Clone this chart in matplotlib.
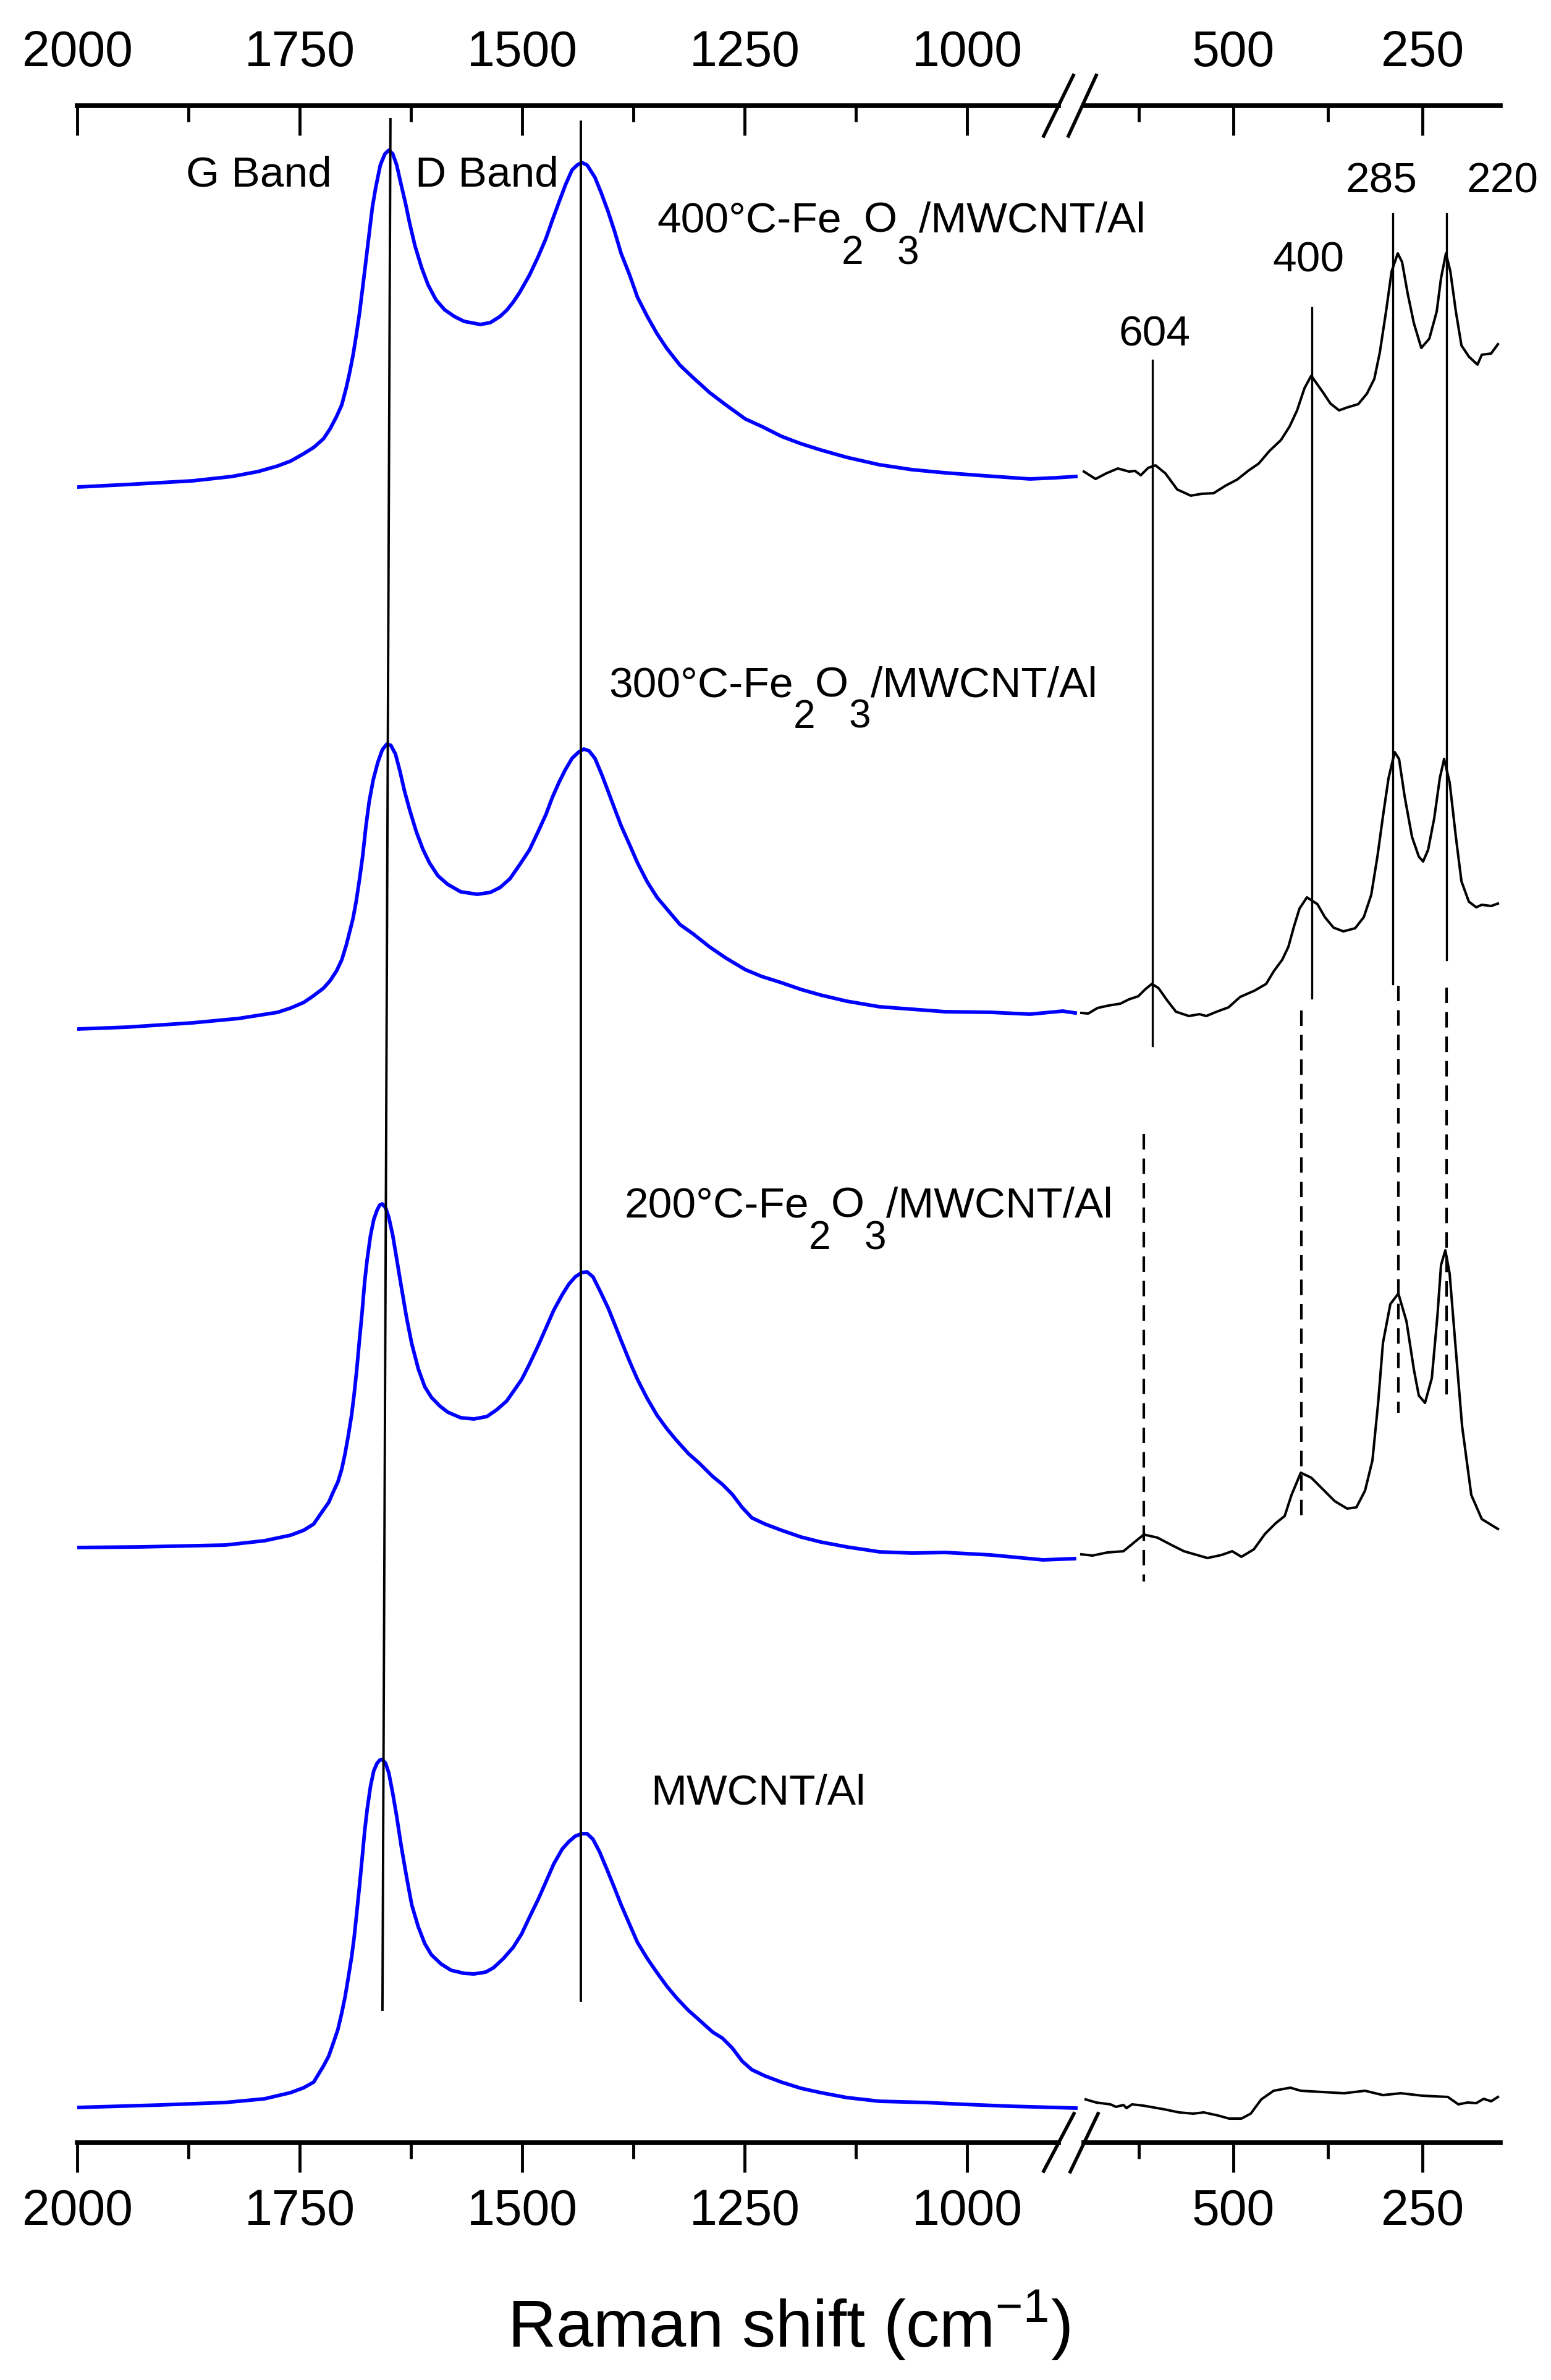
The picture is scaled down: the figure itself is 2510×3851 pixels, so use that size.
import matplotlib
matplotlib.use("Agg")
import matplotlib.pyplot as plt
from matplotlib.lines import Line2D

plt.rcParams['font.family'] = ['Liberation Sans', 'DejaVu Sans']
plt.rcParams['mathtext.fontset'] = 'custom'
plt.rcParams['mathtext.rm'] = 'Liberation Sans'
plt.rcParams['mathtext.it'] = 'Liberation Sans:italic'
plt.rcParams['mathtext.bf'] = 'Liberation Sans:bold'

# ---------------- data (Raman shift in cm-1, stacked intensity in a.u.) ----------------
# 400 C sample
s400_blue_x = [1999.0, 1943.9, 1870.3, 1826.2, 1796.8, 1774.8, 1760.1, 1745.4, 1734.3, 1723.3,
               1715.9, 1708.6, 1702.7, 1697.6, 1693.9, 1690.2, 1686.6, 1682.9, 1679.2, 1675.5,
               1671.9, 1668.2, 1664.5, 1659.4, 1654.2, 1649.8, 1645.4, 1641.0, 1636.6, 1631.4,
               1626.3, 1620.4, 1613.0, 1605.7, 1596.9, 1587.3, 1576.3, 1565.2, 1546.9, 1535.8,
               1524.8, 1517.4, 1510.1, 1502.7, 1491.7, 1482.2, 1473.3, 1466.0, 1458.6, 1451.3,
               1443.9, 1438.1, 1432.9, 1427.0, 1418.2, 1410.9, 1403.5, 1396.2, 1388.8, 1379.2,
               1370.4, 1359.4, 1348.4, 1337.3, 1322.6, 1307.9, 1289.5, 1271.2, 1249.1, 1230.7,
               1208.7, 1186.6, 1164.6, 1135.2, 1098.4, 1061.6, 1024.9, 988.1, 929.3, 899.8,
               877.8]
s400_blue_y = [267.9, 268.3, 268.9, 269.6, 270.4, 271.3, 272.1, 273.3, 274.3, 275.7,
               277.3, 279.3, 281.2, 284.0, 286.4, 289.1, 292.3, 295.9, 300.2, 304.6,
               308.9, 313.3, 316.4, 320.0, 321.8, 322.4, 321.8, 320.0, 317.2, 314.0,
               310.5, 306.9, 303.4, 300.6, 298.2, 296.6, 295.5, 294.7, 294.2, 294.5,
               295.5, 296.5, 297.8, 299.4, 302.2, 305.1, 308.1, 311.1, 314.0, 316.8,
               319.2, 320.0, 320.4, 320.0, 318.0, 315.4, 312.5, 309.3, 305.7, 302.2,
               298.6, 295.5, 292.7, 290.3, 287.6, 285.6, 283.2, 281.2, 278.9, 277.7,
               276.1, 274.9, 273.9, 272.7, 271.5, 270.7, 270.2, 269.8, 269.2, 269.4,
               269.6]
s400_black_x = [697.7, 682.2, 668.3, 652.8, 638.1, 629.9, 622.5, 612.7, 602.9, 589.9,
                574.3, 556.4, 541.7, 526.1, 510.6, 495.1, 479.6, 466.5, 452.6, 437.1,
                425.7, 415.8, 406.0, 397.1, 381.5, 371.7, 360.3, 348.9, 335.0, 323.5,
                313.7, 306.4, 298.2, 290.8, 282.7, 277.0, 269.6, 261.4, 251.6, 241.0,
                231.2, 225.5, 219.0, 213.2, 205.9, 198.5, 188.7, 177.3, 171.6, 159.3, 150.3]
s400_black_y = [270.4, 269.2, 270.1, 270.9, 270.4, 270.5, 269.8, 271.0, 271.4, 270.1,
                267.5, 266.5, 266.8, 266.9, 268.1, 269.1, 270.6, 271.7, 273.7, 275.5,
                277.7, 280.3, 283.9, 285.9, 283.2, 281.4, 280.3, 280.8, 281.3, 283.0,
                285.4, 289.7, 296.3, 302.8, 305.7, 304.3, 299.2, 294.4, 290.4, 291.9,
                296.3, 301.7, 305.7, 302.8, 296.3, 290.8, 289.0, 287.7, 289.3, 289.5, 291.0]

# 300 C sample
s300_blue_x = [1999.0, 1943.9, 1870.4, 1818.9, 1774.8, 1760.1, 1745.4, 1734.3, 1723.3, 1715.9,
               1708.6, 1702.7, 1697.6, 1693.9, 1690.2, 1686.6, 1682.9, 1679.2, 1675.5, 1671.9,
               1667.4, 1662.3, 1657.1, 1652.0, 1647.6, 1642.4, 1637.3, 1632.2, 1626.3, 1618.9,
               1611.6, 1604.2, 1594.7, 1583.6, 1569.0, 1550.5, 1535.8, 1524.8, 1513.8, 1502.7,
               1491.7, 1482.2, 1473.3, 1466.0, 1458.6, 1451.3, 1443.9, 1436.6, 1430.7, 1424.8,
               1418.2, 1410.9, 1403.5, 1396.2, 1388.8, 1379.2, 1370.4, 1359.4, 1348.4, 1337.3,
               1322.6, 1307.9, 1289.5, 1271.2, 1249.1, 1230.7, 1208.7, 1186.6, 1164.6, 1135.2,
               1098.4, 1061.6, 1024.9, 973.4, 929.3, 892.5, 878.5]
s300_blue_y = [180.2, 180.5, 181.2, 181.9, 182.9, 183.6, 184.5, 185.6, 186.8, 188.0,
               189.6, 191.4, 193.8, 195.9, 198.0, 200.8, 204.3, 208.2, 213.1, 217.0,
               220.5, 223.3, 225.4, 226.3, 226.1, 224.7, 221.9, 218.7, 215.6, 212.1,
               209.3, 207.1, 205.0, 203.6, 202.4, 202.0, 202.3, 203.1, 204.5, 206.8,
               209.2, 212.1, 214.9, 217.7, 220.1, 222.2, 224.0, 225.0, 225.5, 225.2,
               224.0, 221.5, 218.7, 215.9, 213.1, 210.0, 207.1, 204.0, 201.5, 199.6,
               197.1, 195.6, 193.5, 191.7, 189.8, 188.7, 187.7, 186.6, 185.7, 184.7,
               183.8, 183.4, 183.0, 182.9, 182.6, 183.1, 182.8]
s300_black_x = [701.0, 692.0, 679.7, 665.0, 649.5, 638.1, 625.8, 616.8, 607.8, 598.9,
                587.4, 576.0, 558.8, 544.9, 535.9, 522.1, 506.5, 491.0, 472.2, 456.7,
                446.9, 435.5, 427.3, 419.9, 412.6, 402.8, 388.9, 379.1, 367.6, 354.6,
                339.1, 327.6, 317.8, 309.6, 302.3, 294.9, 286.8, 281.0, 273.7, 263.9,
                254.9, 249.2, 242.6, 234.5, 227.1, 221.4, 214.1, 205.9, 198.5, 188.7,
                178.9, 171.6, 159.3, 150.3]
s300_black_y = [182.8, 182.7, 183.6, 184.0, 184.3, 185.0, 185.5, 186.6, 187.5, 186.8,
                184.8, 183.0, 182.3, 182.6, 182.3, 183.0, 183.7, 185.4, 186.4, 187.5,
                189.5, 191.4, 193.5, 196.8, 199.7, 201.5, 200.4, 198.3, 196.6, 196.0,
                196.5, 198.3, 201.9, 208.1, 214.6, 220.8, 225.0, 223.9, 217.9, 211.3,
                208.1, 207.3, 209.2, 214.3, 220.8, 223.9, 220.1, 211.3, 204.1, 200.8,
                199.9, 200.3, 200.1, 200.5]

# 200 C sample
s200_blue_x = [1999.0, 1929.2, 1833.6, 1789.5, 1760.1, 1745.4, 1734.3, 1723.3, 1717.4, 1712.3,
               1707.1, 1702.7, 1699.0, 1695.4, 1691.7, 1688.8, 1685.8, 1682.9, 1679.9, 1677.0,
               1674.1, 1670.4, 1666.7, 1663.0, 1660.1, 1657.2, 1653.5, 1649.8, 1645.4, 1641.0,
               1635.8, 1629.9, 1624.1, 1616.7, 1609.4, 1602.0, 1592.5, 1583.6, 1569.0, 1554.2,
               1539.5, 1528.5, 1517.4, 1510.1, 1500.5, 1491.7, 1482.2, 1473.3, 1464.5, 1455.0,
               1447.6, 1440.3, 1432.9, 1427.0, 1420.4, 1413.1, 1403.5, 1396.2, 1388.8, 1379.2,
               1370.4, 1359.4, 1348.4, 1337.3, 1326.3, 1313.1, 1300.6, 1285.9, 1274.8, 1263.8,
               1252.8, 1241.8, 1227.1, 1208.7, 1186.6, 1164.6, 1135.2, 1098.4, 1061.6, 1024.9,
               973.4, 944.0, 914.6, 879.3]
s200_blue_y = [96.3, 96.4, 96.7, 97.4, 98.3, 99.1, 100.1, 102.4, 103.6, 105.3,
               106.9, 109.0, 111.5, 114.4, 117.7, 121.1, 125.2, 129.8, 134.3, 139.3,
               143.0, 146.8, 149.4, 150.9, 151.7, 151.9, 151.3, 149.7, 146.8, 143.0,
               138.5, 133.5, 129.3, 125.2, 122.3, 120.6, 119.2, 118.2, 117.3, 117.1,
               117.5, 118.6, 120.0, 121.5, 123.5, 126.0, 128.9, 131.8, 134.7, 137.2,
               138.9, 140.1, 140.8, 140.9, 140.1, 138.0, 135.1, 132.5, 129.8, 126.4,
               123.5, 120.4, 117.7, 115.5, 113.6, 111.5, 109.9, 107.8, 106.5, 104.9,
               102.8, 101.1, 100.1, 99.1, 98.0, 97.2, 96.4, 95.6, 95.4, 95.5,
               95.1, 94.7, 94.3, 94.5]
s200_black_x = [701.0, 686.3, 666.7, 645.4, 631.5, 618.5, 600.5, 581.7, 565.4, 534.3,
                515.5, 501.6, 489.4, 473.0, 458.3, 444.4, 432.2, 423.2, 410.9, 397.1,
                379.9, 366.0, 349.7, 337.4, 326.0, 316.2, 308.8, 302.3, 292.5, 281.9,
                271.2, 261.4, 254.9, 246.7, 237.7, 230.4, 225.5, 219.8, 214.1, 206.7,
                197.7, 185.5, 171.6, 150.3]
s200_black_y = [95.2, 95.0, 95.5, 95.7, 97.1, 98.4, 97.9, 96.7, 95.7, 94.6,
                95.1, 95.7, 94.8, 96.0, 98.5, 100.2, 101.4, 104.8, 108.4, 107.6,
                105.5, 103.8, 102.6, 102.8, 105.5, 110.4, 119.5, 129.4, 135.7, 137.4,
                132.9, 125.1, 120.9, 119.7, 123.7, 133.6, 142.0, 144.4, 140.6, 129.4,
                116.0, 104.8, 100.9, 99.3]

# MWCNT/Al reference
cnt_blue_x = [1999.0, 1907.1, 1833.6, 1789.5, 1760.1, 1745.4, 1734.3, 1723.3, 1717.4, 1712.3,
              1707.1, 1702.7, 1699.0, 1695.4, 1691.7, 1688.8, 1685.8, 1682.9, 1679.9, 1677.0,
              1674.1, 1670.4, 1666.7, 1663.0, 1660.1, 1657.2, 1653.5, 1649.8, 1645.4, 1641.0,
              1635.8, 1629.9, 1624.1, 1616.7, 1609.4, 1602.0, 1591.0, 1579.9, 1565.2, 1554.2,
              1541.0, 1532.2, 1521.1, 1510.1, 1500.5, 1491.7, 1482.2, 1473.3, 1464.5, 1455.0,
              1447.6, 1440.3, 1432.9, 1427.0, 1420.4, 1413.1, 1403.5, 1396.2, 1388.8, 1379.2,
              1370.4, 1359.4, 1348.4, 1337.3, 1326.3, 1313.1, 1300.6, 1285.9, 1274.8, 1263.8,
              1252.8, 1241.8, 1227.1, 1208.7, 1186.6, 1164.6, 1135.2, 1098.4, 1046.9, 1002.8,
              951.4, 877.8]
cnt_blue_y = [5.7, 6.1, 6.5, 7.1, 8.1, 8.9, 9.8, 12.4, 14.0, 16.1,
              18.3, 21.0, 23.6, 26.7, 30.0, 33.2, 37.3, 41.4, 45.9, 50.4,
              54.0, 57.7, 60.2, 61.4, 61.9, 62.0, 61.4, 59.8, 56.5, 52.8,
              47.9, 43.0, 38.5, 34.9, 32.2, 30.4, 28.9, 27.9, 27.4, 27.3,
              27.6, 28.3, 29.8, 31.6, 33.8, 36.5, 39.3, 42.2, 45.1, 47.5,
              48.7, 49.6, 50.0, 50.0, 49.1, 47.1, 43.8, 41.2, 38.5, 35.3,
              32.4, 29.8, 27.5, 25.3, 23.4, 21.4, 19.8, 17.9, 16.9, 15.3,
              13.2, 11.8, 10.8, 9.8, 8.8, 8.1, 7.3, 6.7, 6.5, 6.2,
              5.9, 5.6]
cnt_black_x = [695.3, 681.4, 662.6, 655.2, 645.4, 641.3, 634.0, 619.3, 591.5, 571.9,
               553.1, 539.2, 520.4, 505.7, 489.4, 477.1, 463.2, 446.9, 424.8, 410.9,
               382.4, 353.8, 326.0, 302.3, 278.6, 250.0, 216.5, 202.6, 190.4, 178.9,
               169.1, 159.3, 150.3]
cnt_black_y = [7.0, 6.5, 6.2, 5.8, 6.1, 5.6, 6.2, 6.0, 5.4, 4.9,
               4.7, 4.9, 4.4, 3.9, 3.9, 4.7, 7.0, 8.4, 8.9, 8.4,
               8.2, 8.0, 8.4, 7.7, 8.0, 7.6, 7.4, 6.2, 6.5, 6.4,
               7.1, 6.7, 7.4]

# band guide lines (x at top, x at bottom, y top, y bottom)
g_line_x = [1648.0, 1657.0]
g_line_y = [327.4, 21.5]
d_line_x = [1434.0, 1434.0]
d_line_y = [327.0, 23.0]

# Fe2O3 peak markers
peak_labels = ["604", "400", "285", "220"]
peak_label_x = [604.6, 401.1, 304.7, 144.6]
peak_label_y = [290.8, 302.7, 315.6, 315.5]
solid_x = [607.0, 396.2, 289.2, 218.1]
solid_top = [288.4, 296.9, 312.1, 312.1]
solid_bot = [177.5, 185.2, 187.5, 191.4]
dash_x = [618.5, 410.1, 281.9, 218.1]
dash_top = [163.2, 183.2, 187.2, 186.9]
dash_bot = [90.8, 100.9, 118.1, 120.2]

# sample labels
sample_prefix = ["400°C", "300°C", "200°C"]
sample_label_x = [1348.6, 1402.8, 1385.4]
sample_label_y = [309.1, 234.0, 149.7]
cnt_label = ("MWCNT/Al", 1355.6, 54.8)
band_labels = [("G Band", 1877.8, 316.6), ("D Band", 1620.1, 316.6)]

left_major = [2000, 1750, 1500, 1250, 1000]
left_minor = [1875, 1625, 1375, 1125]
right_major = [500, 250]
right_minor = [625, 375]

# ---------------- layout ----------------
W, H = 2510, 3851
fig = plt.figure(figsize=(W / 100, H / 100), dpi=100)


def fx(p):
    return p / W


def fy(p):
    return 1 - p / H


Y_TOP, Y_BOT = 171, 3467
X0, XS, X1 = 125, 1745, 2428
YLIM = (0, 329.6)
left_lim = (2000, 875.0)
right_lim = (705.1, 147.1)
left_bounds = (2000, 897.2)
right_bounds = (697.7, 147.1)

axL = fig.add_axes([fx(X0), fy(Y_BOT), fx(XS) - fx(X0), fy(Y_TOP) - fy(Y_BOT)])
axR = fig.add_axes([fx(XS), fy(Y_BOT), fx(X1) - fx(XS), fy(Y_TOP) - fy(Y_BOT)])

TFS = 58
SPINE_LW = 5.5


def style(ax, lim, bounds, majors, minors):
    ax.set_xlim(*lim)
    ax.set_ylim(*YLIM)
    ax.set_yticks([])
    ax.patch.set_alpha(0)
    for s in ['left', 'right', 'top']:
        ax.spines[s].set_visible(False)
    ax.spines['bottom'].set_bounds(*bounds)
    ax.spines['bottom'].set_linewidth(SPINE_LW)
    ax.set_xticks(majors)
    ax.set_xticks(minors, minor=True)
    ax.set_xticklabels([str(v) for v in majors])
    ax.tick_params(axis='x', which='major', direction='out', length=34.5, width=3.5,
                   pad=19, labelsize=TFS)
    ax.tick_params(axis='x', which='minor', direction='out', length=19, width=3.5)
    t = ax.twiny()
    t.set_xlim(*lim)
    t.patch.set_alpha(0)
    for s in ['left', 'right', 'bottom']:
        t.spines[s].set_visible(False)
    t.spines['top'].set_bounds(*bounds)
    t.spines['top'].set_linewidth(SPINE_LW)
    t.set_xticks(majors)
    t.set_xticks(minors, minor=True)
    t.set_xticklabels([str(v) for v in majors])
    t.tick_params(axis='x', which='major', direction='in', length=34.5, width=3.5,
                  pad=34, labelsize=TFS)
    t.tick_params(axis='x', which='minor', direction='in', length=19, width=3.5)
    return t


style(axL, left_lim, left_bounds, left_major, left_minor)
style(axR, right_lim, right_bounds, right_major, right_minor)

BLUE = '#0000ff'
for xs, ys in [(s400_blue_x, s400_blue_y), (s300_blue_x, s300_blue_y),
               (s200_blue_x, s200_blue_y), (cnt_blue_x, cnt_blue_y)]:
    axL.plot(xs, ys, color=BLUE, lw=4.2, solid_joinstyle='round', zorder=3)
for xs, ys in [(s400_black_x, s400_black_y), (s300_black_x, s300_black_y),
               (s200_black_x, s200_black_y), (cnt_black_x, cnt_black_y)]:
    axR.plot(xs, ys, color='black', lw=2.9, solid_joinstyle='round', zorder=3)

# guide lines
axL.plot(g_line_x, g_line_y, color='black', lw=2.8, zorder=4)
axL.plot(d_line_x, d_line_y, color='black', lw=2.8, zorder=4)
for x, a, b in zip(solid_x, solid_top, solid_bot):
    axR.plot([x, x], [a, b], color='black', lw=2.4, zorder=4)
for x, a, b in zip(dash_x, dash_top, dash_bot):
    axR.plot([x, x], [a, b], color='black', lw=3.0, linestyle=(0, (6, 3.5)), zorder=4)

LFS = 50
for s, x, y in zip(peak_labels, peak_label_x, peak_label_y):
    axR.text(x, y, s, fontsize=LFS, ha='center', va='baseline')
for s, x, y in band_labels:
    axL.text(x, y, s, fontsize=LFS, ha='left', va='baseline')


def formula_label(ax, x, y, prefix):
    fs, fss, dy = LFS, 46, 36
    t1 = ax.text(x, y, prefix + "-Fe", fontsize=fs, ha='left', va='baseline')
    t2 = ax.annotate("2", xy=(1, 0), xycoords=t1, xytext=(0, -dy),
                     textcoords='offset points', fontsize=fss, ha='left', va='bottom')
    t3 = ax.annotate("O", xy=(1, 0), xycoords=(t2, t1), fontsize=fs,
                     ha='left', va='bottom')
    t4 = ax.annotate("3", xy=(1, 0), xycoords=(t3, t1), xytext=(0, -dy),
                     textcoords='offset points', fontsize=fss, ha='left', va='bottom')
    ax.annotate("/MWCNT/Al", xy=(1, 0), xycoords=(t4, t1), fontsize=fs,
                ha='left', va='bottom')


for p, x, y in zip(sample_prefix, sample_label_x, sample_label_y):
    formula_label(axL, x, y, p)
axL.text(cnt_label[1], cnt_label[2], cnt_label[0], fontsize=LFS, ha='left', va='baseline')

# axis break marks
for (xa, ya), (xb, yb) in [((1689, 220), (1737, 122)), ((1729, 220), (1774, 122)),
                           ((1689, 3513), (1738, 3420)), ((1732, 3514), (1777, 3420))]:
    fig.add_artist(Line2D([fx(xa), fx(xb)], [fy(ya), fy(yb)], color='black', lw=4,
                          transform=fig.transFigure))

fig.text(fx(1276), fy(3798), r'Raman shift (cm$^{-1}$)', fontsize=78,
         ha='center', va='baseline')

fig.savefig('out.png', dpi=100)
